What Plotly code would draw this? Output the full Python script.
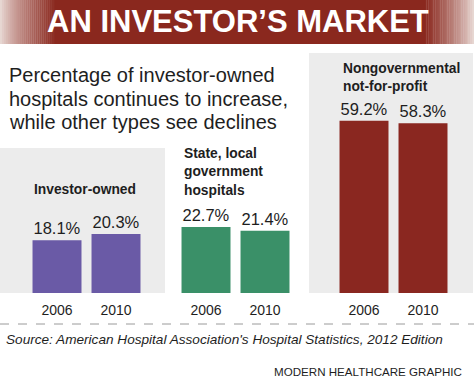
import plotly.graph_objects as go

# ---- data ----
years = ["2006", "2010"]
investor_owned = [18.1, 20.3]
state_local = [22.7, 21.4]
nongov_nfp = [59.2, 58.3]

title_text = "AN INVESTOR\u2019S MARKET"
subtitle_lines = ["Percentage of investor-owned",
                  "hospitals continues to increase,",
                  "while other types see declines"]
panel_titles = [["Investor-owned"],
                ["State, local", "government", "hospitals"],
                ["Nongovernmental", "not-for-profit"]]
source_text = "Source: American Hospital Association's Hospital Statistics, 2012 Edition"
credit_text = "MODERN HEALTHCARE GRAPHIC"

# ---- layout helpers ----
W, H = 474, 383
def px(x):
    return x / W
def py(y):
    return 1 - y / H

TXT = "#1e1e1e"
FONT = "Liberation Sans, Arial, sans-serif"
colors = ["#6a5aa6", "#3a9068", "#8a2720"]
series = [investor_owned, state_local, nongov_nfp]
x_domains = [(27.5, 145.5), (176.5, 294.5), (334.5, 452.5)]
y_bottom, y_top = 293, 60
px_per_unit = 2.91

fig = go.Figure()
for i, (vals, col) in enumerate(zip(series, colors)):
    n = "" if i == 0 else str(i + 1)
    fig.add_trace(go.Bar(
        x=years, y=vals, marker=dict(color=col, line=dict(width=0)),
        text=vals, texttemplate="%{y:.1f}%", textposition="outside",
        textfont=dict(size=16.5, color=TXT, family=FONT),
        constraintext="none", cliponaxis=False,
        xaxis="x" + n, yaxis="y" + n, showlegend=False, hoverinfo="skip"))
    fig.layout["xaxis" + n] = dict(
        domain=[px(x_domains[i][0]), px(x_domains[i][1])],
        anchor="y" + n, type="category", showline=False, showgrid=False,
        zeroline=False, ticks="", ticklabelstandoff=7,
        tickfont=dict(size=14, color=TXT, family=FONT), fixedrange=True)
    fig.layout["yaxis" + n] = dict(
        domain=[py(y_bottom), py(y_top)], anchor="x" + n,
        range=[0, (y_bottom - y_top) / px_per_unit], visible=False,
        fixedrange=True)

shapes = []
# panel backgrounds
for (x0, y0, x1, y1) in [(0, 148, 165, 293), (309, 53, 473, 293)]:
    shapes.append(dict(type="rect", xref="paper", yref="paper",
                       x0=px(x0), x1=px(x1), y0=py(y1), y1=py(y0),
                       fillcolor="#ececec", line=dict(width=0), layer="below"))

# banner with fading edges
red = (138, 40, 30)
light = (235, 222, 218)
def mix(t):
    return "rgb(%d,%d,%d)" % tuple(round(light[k] + (red[k] - light[k]) * t) for k in range(3))
shapes.append(dict(type="rect", xref="paper", yref="paper",
                   x0=px(55), x1=px(425), y0=py(44), y1=py(0),
                   fillcolor=mix(1), line=dict(width=0), layer="below"))
steps = 28
for s in range(steps):
    t = (s + 0.5) / steps
    t2 = t ** 0.8
    shapes.append(dict(type="rect", xref="paper", yref="paper",
                       x0=px(55 * s / steps), x1=px(55 * (s + 1) / steps + 0.3),
                       y0=py(44), y1=py(0), fillcolor=mix(t2),
                       line=dict(width=0), layer="below"))
    shapes.append(dict(type="rect", xref="paper", yref="paper",
                       x0=px(474 - 49 * (s + 1) / steps - 0.3), x1=px(474 - 49 * s / steps),
                       y0=py(44), y1=py(0), fillcolor=mix(t2),
                       line=dict(width=0), layer="below"))

# dashed separator
shapes.append(dict(type="line", xref="paper", yref="paper",
                   x0=0, x1=1, y0=py(324), y1=py(324),
                   line=dict(color="#9a9a9a", width=1, dash="dash")))

ann = []
ann.append(dict(text="<b>%s</b>" % title_text, x=px(238), y=py(22),
                xref="paper", yref="paper", showarrow=False,
                xanchor="center", yanchor="middle",
                font=dict(size=31, color="white", family=FONT)))
for k, line in enumerate(subtitle_lines):
    ann.append(dict(text=line, x=px(7), y=py(75 + 23.5 * k), xref="paper",
                    yref="paper", showarrow=False, xanchor="left",
                    yanchor="middle", font=dict(size=20, color=TXT, family=FONT)))
title_pos = [(32, 189), (182, 153), (341, 68)]
for (x0, y0), lines in zip(title_pos, panel_titles):
    for k, line in enumerate(lines):
        ann.append(dict(text="<b>%s</b>" % line, x=px(x0), y=py(y0 + 18.5 * k),
                        xref="paper", yref="paper", showarrow=False,
                        xanchor="left", yanchor="middle",
                        font=dict(size=13.8, color=TXT, family=FONT)))
ann.append(dict(text="<i>%s</i>" % source_text, x=px(4), y=py(339),
                xref="paper", yref="paper", showarrow=False, xanchor="left",
                yanchor="middle", font=dict(size=13.6, color=TXT, family=FONT)))
ann.append(dict(text=credit_text, x=px(464), y=py(371), xref="paper",
                yref="paper", showarrow=False, xanchor="right",
                yanchor="middle", font=dict(size=11.6, color=TXT, family=FONT)))

fig.update_layout(width=W, height=H, margin=dict(l=0, r=0, t=0, b=0),
                  paper_bgcolor="white", plot_bgcolor="rgba(0,0,0,0)",
                  bargap=0.17, shapes=shapes, annotations=ann,
                  font=dict(family=FONT, color=TXT))
fig.write_html("out.html", config={"displayModeBar": False, "staticPlot": True},
               post_script="document.body.style.margin='0';document.body.style.overflow='hidden';")
